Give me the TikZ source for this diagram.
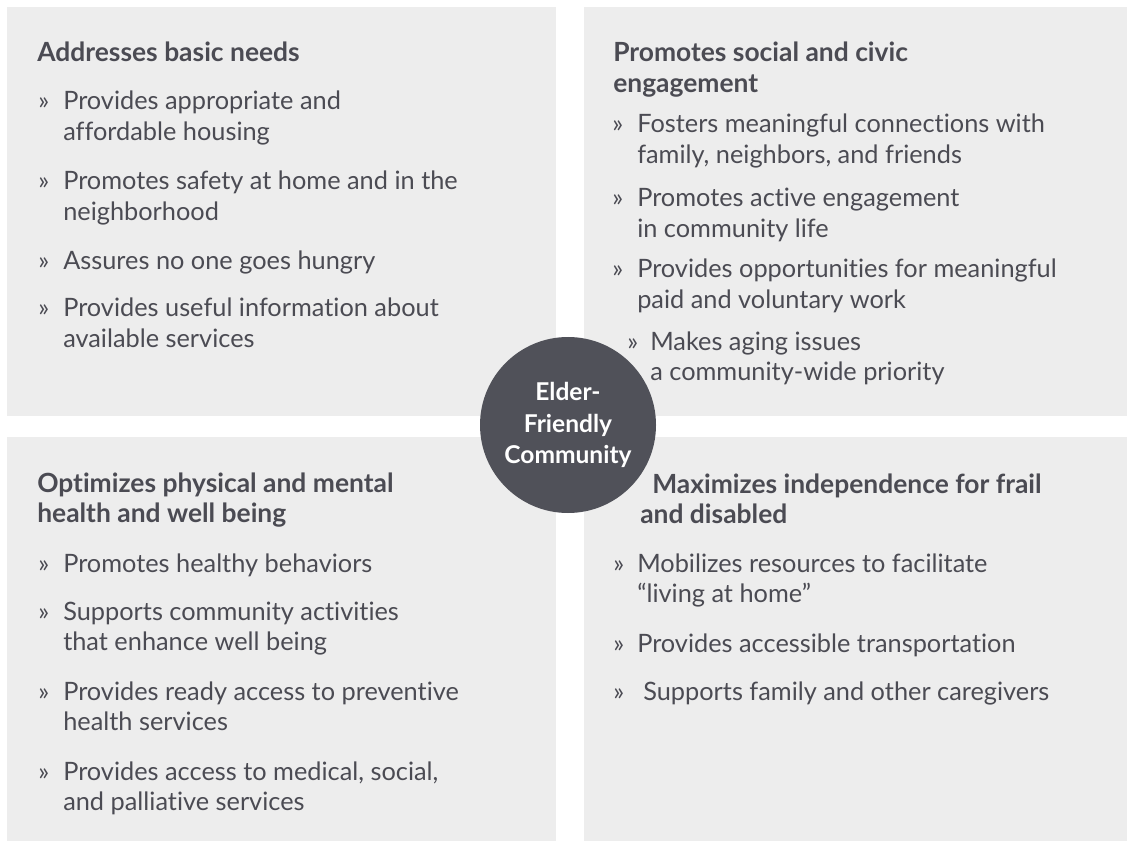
\documentclass[tikz,border=0pt]{standalone}
\usepackage{fontspec}
\setmainfont{Lato}[Ligatures=NoCommon]
\usetikzlibrary{positioning}
\definecolor{panelgray}{HTML}{EDEDED}
\definecolor{inkgray}{HTML}{4B4B53}
\definecolor{hubgray}{HTML}{505159}
\tikzstyle{panel_style} = [fill=panelgray, draw=none]
\tikzstyle{title_style} = [anchor=base west, inner sep=0pt, text=inkgray, font=\fontsize{19.8}{23.2}\selectfont\bfseries]
\tikzstyle{item_style} = [anchor=base west, inner sep=0pt, text=inkgray, font=\fontsize{19}{23}\selectfont]
\tikzstyle{bullet_style} = [anchor=base west, inner sep=0pt, text=inkgray, font=\fontsize{19}{23}\selectfont]
\tikzstyle{hub_style} = [circle, fill=hubgray, minimum size=132pt, inner sep=0pt, align=center, text=white, font=\fontsize{18.4}{23.5}\selectfont\bfseries]
\newcommand{\itemtext}[1]{\parbox[t]{12cm}{\raggedright #1}}

\begin{document}
\begin{tikzpicture}[x=0.75pt, y=-0.75pt]

	  \useasboundingbox (0,0) rectangle (1127,841);

	  % panels
	  \fill[panel_style] (7,7) rectangle (556,416);
	  \fill[panel_style] (584,7) rectangle (1127,416);
	  \fill[panel_style] (7,437) rectangle (556,841);
	  \fill[panel_style] (584,437) rectangle (1127,841);

	  % top left
	  \node[title_style] (title0) at (37,62) {Addresses basic needs};
	  \node[bullet_style] (bul0) at (38,110) {»};
	  \node[item_style] (item0) at (63,110) {\itemtext{Provides appropriate and\\affordable housing}};
	  \node[bullet_style] (bul1) at (38,190) {»};
	  \node[item_style] (item1) at (63,190) {\itemtext{Promotes safety at home and in the\\neighborhood}};
	  \node[bullet_style] (bul2) at (38,270) {»};
	  \node[item_style] (item2) at (63,270) {Assures no one goes hungry};
	  \node[bullet_style] (bul3) at (38,317) {»};
	  \node[item_style] (item3) at (63,317) {\itemtext{Provides useful information about\\available services}};

	  % top right
	  \node[title_style] (title1) at (613,62) {\itemtext{Promotes social and civic\\engagement}};
	  \node[bullet_style] (bul4) at (612,133) {»};
	  \node[item_style] (item4) at (637,133) {\itemtext{Fosters meaningful connections with\\family, neighbors, and friends}};
	  \node[bullet_style] (bul5) at (612,207) {»};
	  \node[item_style] (item5) at (637,207) {\itemtext{Promotes active engagement\\in community life}};
	  \node[bullet_style] (bul6) at (612,278) {»};
	  \node[item_style] (item6) at (637,278) {\itemtext{Provides opportunities for meaningful\\paid and voluntary work}};
	  \node[bullet_style] (bul7) at (627,350) {»};
	  \node[item_style] (item7) at (650,350) {\itemtext{Makes aging issues\\a community-wide priority}};

	  % bottom left
	  \node[title_style] (title2) at (37,492) {\itemtext{Optimizes physical and mental\\health and well being}};
	  \node[bullet_style] (bul8) at (38,572) {»};
	  \node[item_style] (item8) at (63,572) {Promotes healthy behaviors};
	  \node[bullet_style] (bul9) at (38,620) {»};
	  \node[item_style] (item9) at (63,620) {\itemtext{Supports community activities\\that enhance well being}};
	  \node[bullet_style] (bul10) at (38,700) {»};
	  \node[item_style] (item10) at (63,700) {\itemtext{Provides ready access to preventive\\health services}};
	  \node[bullet_style] (bul11) at (38,780) {»};
	  \node[item_style] (item11) at (63,780) {\itemtext{Provides access to medical, social,\\and palliative services}};

	  % bottom right
	  \node[title_style] (title3) at (640,493) {\itemtext{\hspace*{9pt}Maximizes independence for frail\\and disabled}};
	  \node[bullet_style] (bul12) at (613,572) {»};
	  \node[item_style] (item12) at (637,572) {\itemtext{Mobilizes resources to facilitate\\“living at home”}};
	  \node[bullet_style] (bul13) at (613,652) {»};
	  \node[item_style] (item13) at (637,652) {Provides accessible transportation};
	  \node[bullet_style] (bul14) at (613,700) {»};
	  \node[item_style] (item14) at (643,700) {Supports family and other caregivers};

	  % centre
	  \node[hub_style] (hub) at (568,425) {Elder-\\Friendly\\Community};

\end{tikzpicture}
\end{document}
